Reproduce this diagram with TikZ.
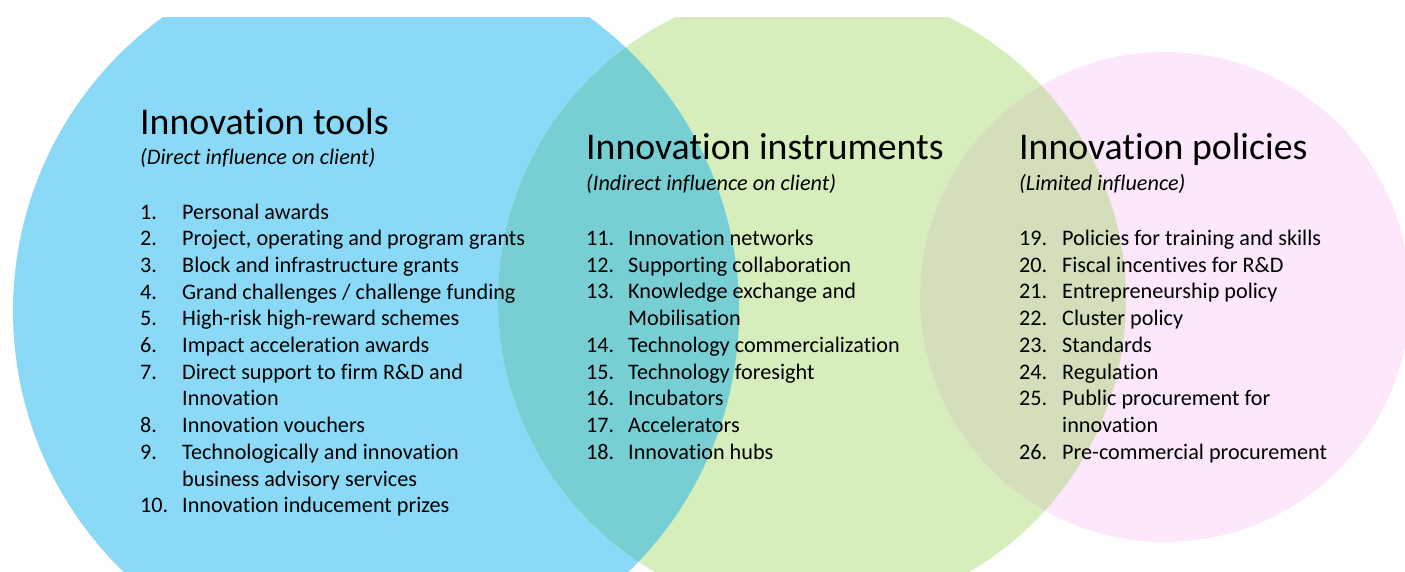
\documentclass[tikz,border=0pt]{standalone}
\usepackage{fontspec}
\setmainfont{Carlito}[Ligatures=NoCommon]

\definecolor{toolblue}{HTML}{8AD9F6}
\definecolor{instrgreen}{HTML}{D6EDBC}
\definecolor{policypink}{HTML}{FCE7FC}
\definecolor{bluegreen}{HTML}{77CFD3}
\definecolor{greenpink}{HTML}{D5DEBA}

\begin{document}
\begin{tikzpicture}[x=1pt,y=-1pt,
  title node/.style={anchor=base west,inner sep=0pt,font=\fontsize{37.8}{45}\selectfont},
  sub node/.style={anchor=base west,inner sep=0pt,font=\fontsize{22.2}{26.7}\selectfont\itshape},
  list node/.style={anchor=base west,inner sep=0pt,font=\fontsize{22.2}{26.7}\selectfont}]
\useasboundingbox (0,0) rectangle (1405,572);

\coordinate (tools) at (376,311);
\coordinate (instr) at (812,300);
\coordinate (policy) at (1165,297);

% the three sets, cut off at the top band and the lower edge
\begin{scope}
  \clip (0,18) rectangle (1405,572);
  \fill[toolblue] (tools) circle[radius=363pt];
  \fill[instrgreen] (instr) circle[radius=314pt];
  \fill[policypink] (policy) circle[radius=245pt];
  \begin{scope}
    \clip (tools) circle[radius=363pt];
    \fill[bluegreen] (instr) circle[radius=314pt];
  \end{scope}
  \begin{scope}
    \clip (instr) circle[radius=314pt];
    \fill[greenpink] (policy) circle[radius=245pt];
  \end{scope}
\end{scope}

% tools
\node[title node] (tools title) at (140,135) {Innovation tools};
\node[sub node] (tools sub) at (140,165) {(Direct influence on client)};
\node[list node] (tools list) at (140,219) {\begin{tabular}[t]{@{}p{42pt}@{}l@{}}
1. & Personal awards\\
2. & Project, operating and program grants\\
3. & Block and infrastructure grants\\
4. & Grand challenges / challenge funding\\
5. & High-risk high-reward schemes\\
6. & Impact acceleration awards\\
7. & Direct support to firm R\&D and\\
   & Innovation\\
8. & Innovation vouchers\\
9. & Technologically and innovation\\
   & business advisory services\\
10. & Innovation inducement prizes
\end{tabular}};

% instruments
\node[title node] (instr title) at (586,160) {Innovation instruments};
\node[sub node] (instr sub) at (586,190.5) {(Indirect influence on client)};
\node[list node] (instr list) at (586,245.5) {\begin{tabular}[t]{@{}p{42pt}@{}l@{}}
11. & Innovation networks\\
12. & Supporting collaboration\\
13. & Knowledge exchange and\\
    & Mobilisation\\
14. & Technology commercialization\\
15. & Technology foresight\\
16. & Incubators\\
17. & Accelerators\\
18. & Innovation hubs
\end{tabular}};

% policies
\node[title node] (policy title) at (1019,160) {Innovation policies};
\node[sub node] (policy sub) at (1019,190.5) {(Limited influence)};
\node[list node] (policy list) at (1019,245.5) {\begin{tabular}[t]{@{}p{43pt}@{}l@{}}
19. & Policies for training and skills\\
20. & Fiscal incentives for R\&D\\
21. & Entrepreneurship policy\\
22. & Cluster policy\\
23. & Standards\\
24. & Regulation\\
25. & Public procurement for\\
    & innovation\\
26. & Pre-commercial procurement
\end{tabular}};
\end{tikzpicture}
\end{document}
